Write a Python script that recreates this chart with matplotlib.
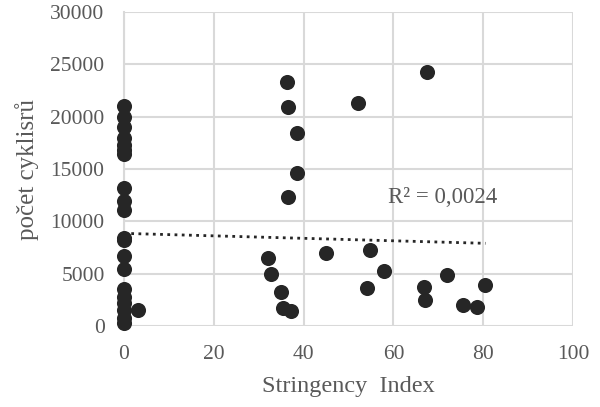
import numpy as np
import matplotlib
matplotlib.use("Agg")
import matplotlib.pyplot as plt

# Stringency index vs. cyclist counts
stringency = [0, 0, 0, 0, 0, 0, 0,
              0, 0, 0,
              0, 0, 0, 0,
              0, 0, 0, 0, 0, 0, 3.1,
              36.2, 36.6, 38.5, 38.5, 36.6, 52.2,
              32.1, 32.7, 35.0, 35.5, 37.1, 45.0,
              54.8, 57.9, 54.1,
              67.4, 66.9, 67.0, 71.9, 75.6, 78.6, 80.5]
cyclists = [21000, 20000, 19000, 18000, 17300, 16800, 16400,
            13200, 11900, 11100,
            8400, 8200, 6700, 5400,
            3500, 2800, 2200, 1500, 800, 300, 1500,
            23350, 20950, 18450, 14650, 12300, 21350,
            6500, 4950, 3250, 1750, 1400, 6950,
            7300, 5300, 3600,
            24300, 3700, 2500, 4850, 2000, 1850, 3950]

# linear trendline end points (x range of the data)
trend_x = [0, 80.5]
trend_y = [8850, 7900]

x_ticks = [0, 20, 40, 60, 80, 100]
y_ticks = [0, 5000, 10000, 15000, 20000, 25000, 30000]
r2_label = "R² = 0,0024"

plt.rcParams['font.family'] = ['Liberation Serif', 'DejaVu Serif']

fig = plt.figure(figsize=(6.0, 4.07), dpi=100)
ax = fig.add_axes([0.2067, 0.199, 0.7483, 0.7715])

grid_c = '#d9d9d9'
text_c = '#595959'

ax.scatter(stringency, cyclists, s=118, color='#262626', zorder=3,
           linewidths=0, clip_on=False)

ax.plot(trend_x, trend_y, linestyle=(0, (1, 1.6)), color='#262626',
        linewidth=2.0, zorder=2)

ax.text(58.8, 12270, r2_label, color=text_c, fontsize=16.5, va='center', ha='left')

ax.set_xlim(0, 100)
ax.set_ylim(0, 30000)
ax.set_xticks(x_ticks)
ax.set_yticks(y_ticks)
ax.tick_params(length=0, labelsize=15.5, labelcolor=text_c)
ax.tick_params(axis='y', pad=14)
ax.tick_params(axis='x', pad=14)
ax.grid(True, color=grid_c, linewidth=1.5, zorder=0)
ax.set_axisbelow(True)
for s in ax.spines.values():
    s.set_visible(False)
ax.spines['left'].set_visible(True)
ax.spines['left'].set_color(grid_c)
ax.spines['left'].set_linewidth(1.5)

ax.set_xlabel("Stringency  Index", fontsize=17.5, color=text_c, labelpad=8)
ax.set_ylabel("počet cyklisrů", fontsize=18, color=text_c, labelpad=8)

fig.savefig("out.png", dpi=100)
